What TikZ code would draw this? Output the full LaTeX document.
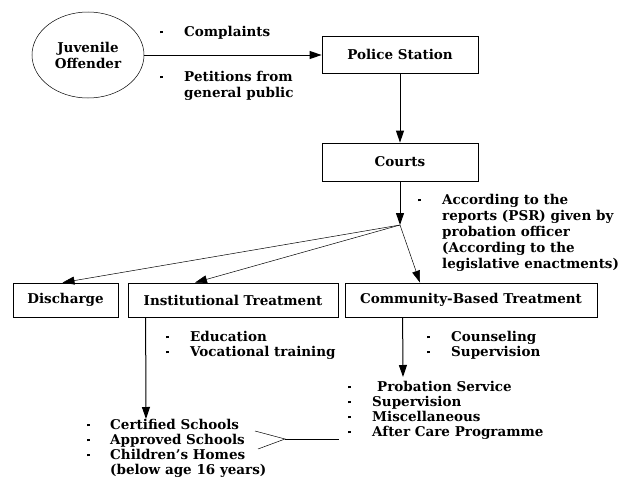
\documentclass[tikz,border=0pt]{standalone}
\usepackage{fontspec}
\setmainfont{DejaVu Serif}
\usetikzlibrary{arrows.meta,shapes.geometric,calc}
\newcommand{\dotmark}{\raisebox{3.2pt}{\rule{2.4pt}{2.4pt}}}
\newcommand{\bul}{\makebox[24pt][l]{\dotmark}}
\begin{document}
\begin{tikzpicture}[x=1pt,y=-1pt,
  font=\fontsize{13.5}{16}\selectfont\bfseries,
  box/.style={draw,line width=0.8pt,rectangle,inner sep=0pt},
  listtxt/.style={align=left,inner sep=0pt,anchor=north west},
  tightlist/.style={listtxt,font=\fontsize{13.5}{15}\selectfont\bfseries},
  main/.style={line width=1pt,-{Triangle[length=12pt,width=8pt]}},
  thin/.style={line width=0.5pt,-{Triangle[length=12pt,width=8pt]}}]
\useasboundingbox (0,0) rectangle (621,479);

% top row
\node[draw,ellipse,line width=0.5pt,minimum width=112pt,minimum height=86pt,inner sep=0pt,align=center]
  (offender) at (88,55) {Juvenile\\Offender};
\node[box,minimum width=156pt,minimum height=37pt] (police) at (400,54.5) {Police Station};
\node[box,minimum width=156pt,minimum height=38pt] (courts) at (400,162) {Courts};

\node[listtxt] (complaints) at (160,26) {\bul Complaints};
\node[listtxt] (petitions) at (160,71) {\bul Petitions from\\\hspace*{24pt}general public};

\draw[main] (offender.east) -- (offender.east -| police.west);
\draw[main] (police) -- (courts);

% decision point below the courts
\coordinate (split) at (400,225);
\draw[main] (courts) -- (split);
\node[listtxt] (reports) at (418,194) {\bul According to the\\\hspace*{24pt}reports (PSR) given by\\\hspace*{24pt}probation officer\\\hspace*{24pt}(According to the\\\hspace*{24pt}legislative enactments)};

% outcomes
\node[box,minimum width=105pt,minimum height=34pt] (discharge) at (65.5,300) {Discharge};
\node[box,minimum width=210pt,minimum height=34pt] (inst) at (233,300) {Institutional Treatment};
\node[box,minimum width=252pt,minimum height=34pt] (comm) at (471,300) {Community-Based Treatment};

\draw[thin] (split) -- ($(discharge.north)+(-3,0)$);
\draw[thin] (split) -- ($(inst.north)+(-38,0)$);
\draw[thin] (split) -- ($(comm.north)+(-51,0)$);

% institutional branch
\node[tightlist] (instaims) at (166,331) {\bul Education\\\bul Vocational training};
\coordinate (instdown) at ($(inst.south west)+(18,0)$);
\coordinate (instend) at (146,419);
\draw[main] (instdown) -- (instend);
\node[tightlist] (homes) at (87,419) {\makebox[23pt][l]{\dotmark}Certified Schools\\\makebox[23pt][l]{\dotmark}Approved Schools\\\makebox[23pt][l]{\dotmark}Children's Homes\\\hspace*{23pt}(below age 16 years)};

% community branch
\node[tightlist] (commaims) at (427,331) {\bul Counseling\\\bul Supervision};
\coordinate (commdown) at ($(comm.south west)+(58,0)$);
\coordinate (commend) at (403,377);
\draw[main] (commdown) -- (commend);
\node[tightlist] (services) at (348,381) {\makebox[29pt][l]{\dotmark}Probation Service\\\bul Supervision\\\bul Miscellaneous\\\bul After Care Programme};

% bracket joining the two lists
\coordinate (fa) at (255,431);
\coordinate (fb) at (258,449);
\coordinate (fc) at (285,439);
\coordinate (fd) at (339,439);
\draw[line width=0.5pt] (fa) -- (fc) -- (fb);
\draw[line width=0.8pt] (fc) -- (fd);
\end{tikzpicture}
\end{document}
